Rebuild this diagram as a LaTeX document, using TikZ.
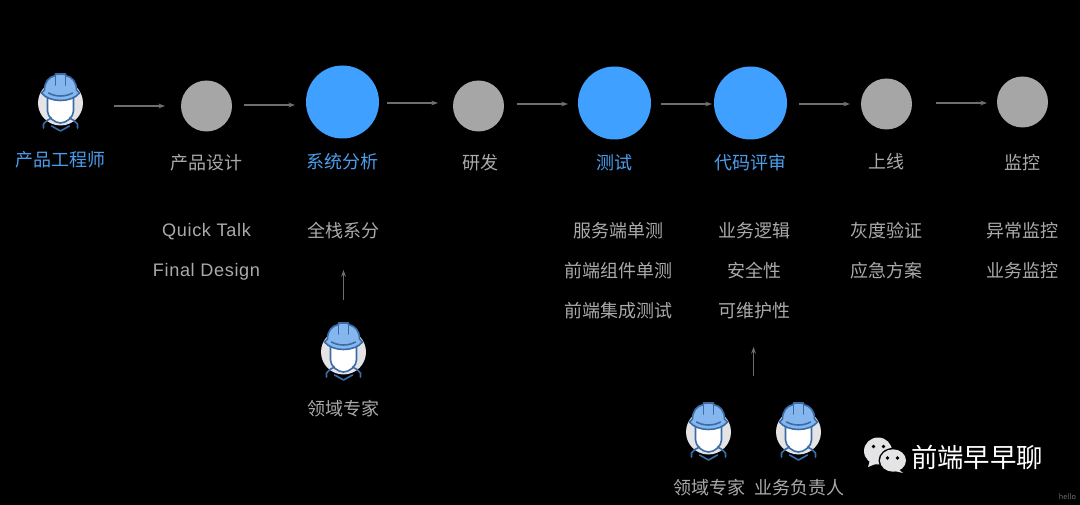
\documentclass[tikz,border=0pt]{standalone}
\usepackage{fontspec}
\setmainfont{Noto Sans CJK SC}
\newfontfamily\latfont[LetterSpace=3.5]{Liberation Sans}
\usetikzlibrary{arrows.meta}
\definecolor{blueC}{HTML}{40A0FF}
\definecolor{greyC}{HTML}{A6A6A6}
\definecolor{txtG}{HTML}{AAAAAA}
\definecolor{txtB}{HTML}{4A9EEC}
\definecolor{arr}{HTML}{6E6E6E}
\definecolor{hatF}{HTML}{86B6EE}
\definecolor{hatL}{HTML}{3A6CA8}
\definecolor{discF}{HTML}{E4E4E6}
\tikzset{
  px/.style={x=0.75pt,y=-0.75pt},
  bigdot/.style={circle,fill=blueC,minimum size=54.75pt,inner sep=0pt},
  smalldot/.style={circle,fill=greyC,minimum size=38.25pt,inner sep=0pt},
  lab/.style={text=txtG,font=\fontsize{13.5pt}{15pt}\selectfont,inner sep=0pt},
  labb/.style={text=txtB,font=\fontsize{13.5pt}{15pt}\selectfont,inner sep=0pt},
  lat/.style={text=txtG,font=\latfont\fontsize{13.6pt}{15pt}\selectfont,inner sep=0pt},
  flow/.style={draw=arr,line width=0.9pt,-{Stealth[length=5pt,width=3.6pt]}},
  hl/.style={draw=hatL,line width=1.2pt,line join=round,line cap=round},
  worker/.pic={
    \fill[discF] (0,0) circle (22.5);
    \path[hl,fill=white] (-13,-6) -- (-13,8) .. controls (-13,14) and (-6,20) .. (0,20) .. controls (6,20) and (13,14) .. (13,8) -- (13,-6) -- cycle;
    \path[hl,fill=hatF] (-19,-10) -- (-16,-13) .. controls (-16,-21) and (-12,-26) .. (-5,-27.5) -- (-5,-29) -- (5,-29) -- (5,-27.5) .. controls (12,-26) and (16,-21) .. (16,-13) -- (19,-10) .. controls (11,0) and (-11,0) .. (-19,-10) -- cycle;
    \path[hl] (-12,-10) .. controls (-5,-6) and (5,-6) .. (12,-10);
    \path[hl] (-5,-27.5) -- (-5,-18) (5,-27.5) -- (5,-18);
    \path[hl] (-17,25) -- (-17,21) .. controls (-15,18) and (-12,16.5) .. (-9,15) (17,25) -- (17,21) .. controls (15,18) and (12,16.5) .. (9,15);
    \path[hl] (-9,23) -- (0,28) -- (9,23);
  }
}
\begin{document}
\begin{tikzpicture}[px]
\useasboundingbox[fill=black] (0,0) rectangle (1080,505);
% workers
\pic at (60.5,103) {worker};
\pic at (343.5,352) {worker};
\pic at (708.5,432) {worker};
\pic at (798.5,432) {worker};
% dots
\node[smalldot] (n1) at (206.5,106) {};
\node[bigdot] (n2) at (342.5,102) {};
\node[smalldot] (n3) at (478.5,106) {};
\node[bigdot] (n4) at (614.5,103) {};
\node[bigdot] (n5) at (750.5,103) {};
\node[smalldot] (n6) at (886.5,104) {};
\node[smalldot] (n7) at (1022.5,102) {};
\coordinate (a0s) at (114,106); \coordinate (a0e) at (165,106);
\coordinate (a1s) at (244,105); \coordinate (a1e) at (295,105);
\coordinate (a2s) at (387,103); \coordinate (a2e) at (438,103);
\coordinate (a3s) at (517,104); \coordinate (a3e) at (568,104);
\coordinate (a4s) at (661,104); \coordinate (a4e) at (712,104);
\coordinate (a5s) at (799,104); \coordinate (a5e) at (850,104);
\coordinate (a6s) at (936,103); \coordinate (a6e) at (987,103);
\coordinate (u1s) at (343.5,300); \coordinate (u1e) at (343.5,270);
\coordinate (u2s) at (753.5,376); \coordinate (u2e) at (753.5,347);
\foreach \s/\e in {a0s/a0e,a1s/a1e,a2s/a2e,a3s/a3e,a4s/a4e,a5s/a5e,a6s/a6e,u1s/u1e,u2s/u2e}
  \draw[flow] (\s) -- (\e);
% labels
\node[labb] (t0) at (60.5,160) {产品工程师};
\node[lab] (t1) at (206.5,163) {产品设计};
\node[labb] (t2) at (342.5,162) {系统分析};
\node[lab] (t3) at (480.5,163) {研发};
\node[labb] (t4) at (614.5,163) {测试};
\node[labb] (t5) at (750.5,163) {代码评审};
\node[lab] (t6) at (886.5,162) {上线};
\node[lab] (t7) at (1022.5,163) {监控};
\node[lat] (q1) at (206.5,232) {Quick Talk};
\node[lat] (q2) at (206.5,272) {Final Design};
\node[lab] (q3) at (343.5,231) {全栈系分};
\node[lab] (q4) at (343.5,409) {领域专家};
\node[lab] (r1) at (618,231) {服务端单测};
\node[lab] (r2) at (618,271) {前端组件单测};
\node[lab] (r3) at (618,311) {前端集成测试};
\node[lab] (s1) at (754,231) {业务逻辑};
\node[lab] (s2) at (754,271) {安全性};
\node[lab] (s3) at (754,311) {可维护性};
\node[lab] (v1) at (886.5,231) {灰度验证};
\node[lab] (v2) at (886.5,271) {应急方案};
\node[lab] (w1) at (1022.5,231) {异常监控};
\node[lab] (w2) at (1022.5,271) {业务监控};
\node[lab] (x1) at (709,488) {领域专家};
\node[lab] (x2) at (799,488) {业务负责人};
% wechat logo
\fill[discF] (878,451) ellipse (14 and 13.5);
\fill[discF] (870,460) -- (868,467) -- (878,463) -- cycle;
\fill[black] (893,460.5) ellipse (14.5 and 12.5);
\fill[discF] (893,460.5) ellipse (13 and 11.2);
\fill[discF] (897,468) -- (903,473) -- (890,470) -- cycle;
\fill[black] (873.5,446.5) circle (1.8) (883.5,446.5) circle (1.8);
\fill[black] (887.5,458) circle (1.8) (897.5,458) circle (1.8);
\node[text=white,font=\fontsize{19.8pt}{22pt}\selectfont,inner sep=0pt] (brand) at (977,457) {前端早早聊};
\node[text=arr,font=\fontsize{5.5pt}{6pt}\selectfont,inner sep=0pt] (hello) at (1067.5,497) {hello};
\end{tikzpicture}
\end{document}
